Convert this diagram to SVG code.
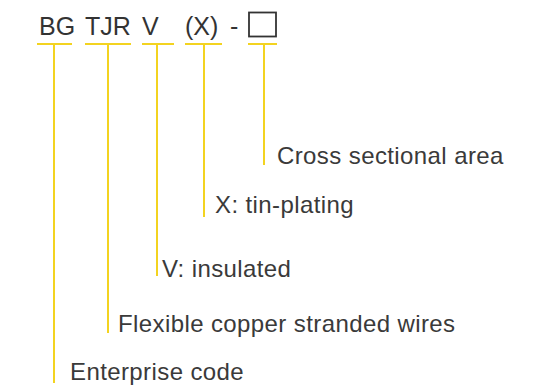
<svg xmlns="http://www.w3.org/2000/svg" width="536" height="391" viewBox="0 0 536 391">
<style>
.code{font-family:"Liberation Sans",Arial,sans-serif;font-size:25px;fill:#333}
.lbl{font-family:"Liberation Sans",Arial,sans-serif;font-size:24px;fill:#3a3a3a;letter-spacing:0.4px}
.ln{stroke:#f3d320;stroke-width:2;fill:none}
</style>
<rect width="536" height="391" fill="#fff"/>
<g id="code">
<text class="code" x="39" y="35">BG</text>
<text class="code" x="85" y="35">TJR</text>
<text class="code" x="142" y="35">V</text>
<text class="code" x="185" y="35">(X)</text>
<text class="code" x="230" y="35">-</text>
<rect x="249" y="12.5" width="27" height="24" fill="none" stroke="#333" stroke-width="1.8"/>
</g>
<g id="connectors">
<path class="ln" d="M37 44H72M54 44V383"/>
<path class="ln" d="M85 44H131M108 44V333"/>
<path class="ln" d="M142 44H174M157 44V276"/>
<path class="ln" d="M185 44H222M204 44V217"/>
<path class="ln" d="M248 44H277M264 44V165"/>
</g>
<g id="enterprise"><text class="lbl" x="70" y="380">Enterprise code</text></g>
<g id="flexible"><text class="lbl" x="118" y="332">Flexible copper stranded wires</text></g>
<g id="insulated"><text class="lbl" x="162" y="277">V: insulated</text></g>
<g id="tin"><text class="lbl" x="215" y="213">X: tin-plating</text></g>
<g id="cross"><text class="lbl" x="277" y="164">Cross sectional area</text></g>
</svg>
